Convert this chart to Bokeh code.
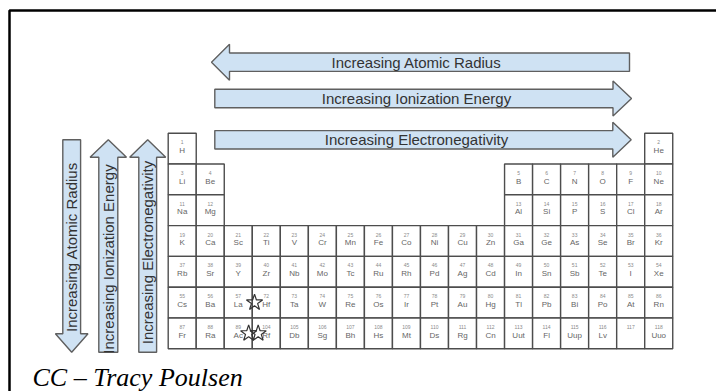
import numpy as np
from bokeh.plotting import figure
from bokeh.models import Range1d, ColumnDataSource
from bokeh.core.properties import value
from bokeh.embed import file_html
from bokeh.resources import INLINE

# ---------------- data ----------------
row_symbols = [
    ["H", "He"],
    ["Li", "Be", "B", "C", "N", "O", "F", "Ne"],
    ["Na", "Mg", "Al", "Si", "P", "S", "Cl", "Ar"],
    ["K", "Ca", "Sc", "Ti", "V", "Cr", "Mn", "Fe", "Co", "Ni", "Cu", "Zn", "Ga", "Ge", "As", "Se", "Br", "Kr"],
    ["Rb", "Sr", "Y", "Zr", "Nb", "Mo", "Tc", "Ru", "Rh", "Pd", "Ag", "Cd", "In", "Sn", "Sb", "Te", "I", "Xe"],
    ["Cs", "Ba", "La", "Hf", "Ta", "W", "Re", "Os", "Ir", "Pt", "Au", "Hg", "Tl", "Pb", "Bi", "Po", "At", "Rn"],
    ["Fr", "Ra", "Ac", "Rf", "Db", "Sg", "Bh", "Hs", "Mt", "Ds", "Rg", "Cn", "Uut", "Fl", "Uup", "Lv", "", "Uuo"],
]
row_numbers = [
    [1, 2],
    [3, 4, 5, 6, 7, 8, 9, 10],
    [11, 12, 13, 14, 15, 16, 17, 18],
    [19, 20, 21, 22, 23, 24, 25, 26, 27, 28, 29, 30, 31, 32, 33, 34, 35, 36],
    [37, 38, 39, 40, 41, 42, 43, 44, 45, 46, 47, 48, 49, 50, 51, 52, 53, 54],
    [55, 56, 57, 72, 73, 74, 75, 76, 77, 78, 79, 80, 81, 82, 83, 84, 85, 86],
    [87, 88, 89, 104, 105, 106, 107, 108, 109, 110, 111, 112, 113, 114, 115, 116, 117, 118],
]
full_groups = [1, 2, 3, 4, 5, 6, 7, 8, 9, 10, 11, 12, 13, 14, 15, 16, 17, 18]
short_groups = [1, 2, 13, 14, 15, 16, 17, 18]
row_groups = [[1, 18], short_groups, short_groups,
              full_groups, full_groups, full_groups, full_groups]
periods = [1, 2, 3, 4, 5, 6, 7]

star_group = [3.58, 3.37, 3.71]
star_period = [6, 7, 7]

h_labels = ["Increasing Atomic Radius", "Increasing Ionization Energy", "Increasing Electronegativity"]
v_labels = ["Increasing Atomic Radius", "Increasing Ionization Energy", "Increasing Electronegativity"]
caption = "CC \u2013 Tracy Poulsen"

# ---------------- table coordinates ----------------
X0, CW = 167.7, 28.03   # page x of table left edge, cell width
Y0, RH = 132.7, 30.8    # page y of table top edge, row height
W, H = 716, 391
OX, OY = 0, 0           # page offset of the figure

def ux(px):
    return (px - X0) / CW + 0.5

def vy(py):
    return (py - Y0) / RH + 0.5

g_all, p_all, s_all, n_all = [], [], [], []
for per, syms, nums, grps in zip(periods, row_symbols, row_numbers, row_groups):
    for s, n, g in zip(syms, nums, grps):
        g_all.append(g); p_all.append(per); s_all.append(s); n_all.append(str(n))

src = ColumnDataSource(dict(
    g=g_all, p=p_all, sym=s_all, num=n_all,
    num_y=[pp - 0.5 + 9.0 / RH for pp in p_all],
    sym_y=[pp - 0.5 + 17.0 / RH for pp in p_all],
))

p = figure(width=W, height=H, output_backend="svg", toolbar_location=None,
           x_range=Range1d(ux(OX), ux(OX + W)), y_range=Range1d(vy(OY + H), vy(OY)),
           min_border=0, outline_line_color=None, background_fill_color="white",
           border_fill_color="white")
p.xaxis.visible = False
p.yaxis.visible = False
p.grid.visible = False

# frame
fx = [9, 9, 800]
fy = [500, 10, 10]
p.line([ux(v) for v in fx], [vy(v) for v in fy], line_color="black", line_width=2.5)

# cells
p.rect(x="g", y="p", width=1, height=1, source=src, fill_color="white",
       line_color="#4d4d4d", line_width=1.4)
p.text(x="g", y="num_y", text="num", source=src, text_align="center", text_baseline="middle",
       text_font=value("Liberation Sans"), text_font_size="5px", text_color="#8a8a8a")
p.text(x="g", y="sym_y", text="sym", source=src, text_align="center", text_baseline="middle",
       text_font=value("Liberation Sans"), text_font_size="8px", text_color="#666666")

# stars
p.scatter(x=star_group, y=star_period, marker="star", size=17, fill_alpha=0,
          line_color="#333333", line_width=1.2)

# arrows
def h_arrow(tail, base, tip, yc, bh, hh):
    xs = [tip, base, base, tail, tail, base, base]
    ys = [yc, yc - hh, yc - bh, yc - bh, yc + bh, yc + bh, yc + hh]
    return [ux(v) for v in xs], [vy(v) for v in ys]

def v_arrow(tail, base, tip, xc, bh, hh):
    ys = [tip, base, base, tail, tail, base, base]
    xs = [xc, xc - hh, xc - bh, xc - bh, xc + bh, xc + bh, xc + hh]
    return [ux(v) for v in xs], [vy(v) for v in ys]

arrows = [
    h_arrow(629, 229, 211, 61.7, 9.2, 18.0),
    h_arrow(214.3, 612.5, 631, 98.0, 9.2, 17.5),
    h_arrow(214.3, 612.3, 630.7, 139.3, 9.2, 17.5),
    v_arrow(139.3, 333.3, 351.7, 71.2, 8.9, 16.3),
    v_arrow(351.7, 156.7, 139.3, 107.8, 9.5, 18.2),
    v_arrow(351.7, 156.7, 139.3, 147.2, 8.9, 18.0),
]
p.patches([a[0] for a in arrows], [a[1] for a in arrows], fill_color="#cfe2f3",
          line_color="#5f5f5f", line_width=1.4)

h_y = [61.7, 98.0, 139.3]
p.text(x=[ux(416)] * 3, y=[vy(v) for v in h_y], text=h_labels, text_align="center",
       text_baseline="middle", text_font=value("Liberation Sans"), text_font_size="15px",
       text_color="#333333")
v_x = [71.2, 107.8, 147.2]
v_y = [246.5, 258.5, 252.0]
p.text(x=[ux(v) for v in v_x], y=[vy(v) for v in v_y], text=v_labels, angle=np.pi / 2,
       text_align="center", text_baseline="middle", text_font=value("Liberation Sans"),
       text_font_size="15px", text_color="#333333")

# caption
p.text(x=[ux(32)], y=[vy(376.5)], text=[caption], text_align="left", text_baseline="middle",
       text_font=value("Liberation Serif"), text_font_style="italic", text_font_size="26px",
       text_color="black")

open("out.html", "w").write(file_html(p, INLINE))
